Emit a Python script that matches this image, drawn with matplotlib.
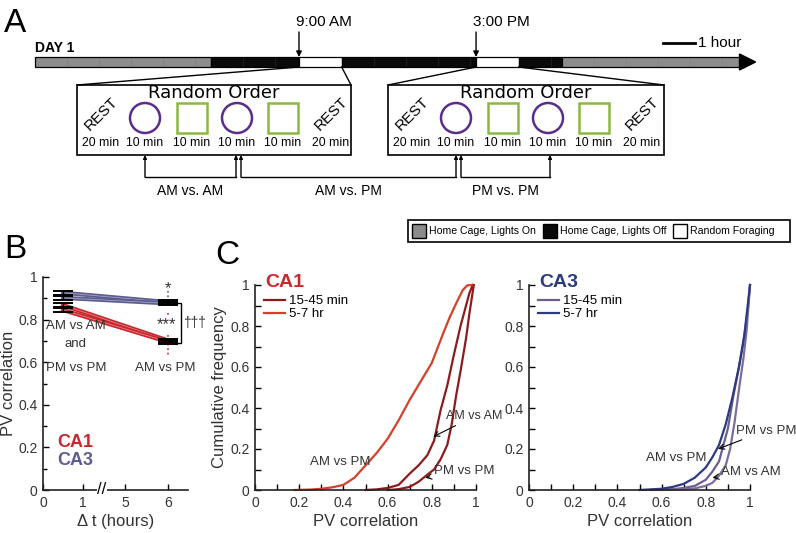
import numpy as np
import matplotlib.pyplot as plt
from matplotlib.patches import Rectangle, Circle, Polygon

plt.rcParams['font.family'] = ['Liberation Sans', 'DejaVu Sans']

# ---- panel A: day schedule (hours) ----
seg_kind = ['on', 'off', 'forage', 'off', 'forage', 'off', 'on']
seg_hours = [5.5, 2.75, 80 / 60, 4.2, 80 / 60, 1.35, 5.55]
seg_colors = {'on': '#8c8c8c', 'off': '#0a0a0a', 'forage': 'white'}
session_names = ['REST', 'circle', 'square', 'circle', 'square', 'REST']
session_minutes = [20, 10, 10, 10, 10, 20]
comparisons = ['AM vs. AM', 'AM vs. PM', 'PM vs. PM']
legend_labels = ['Home Cage, Lights On', 'Home Cage, Lights Off', 'Random Foraging']

# ---- panel B: mean PV correlation ----
delta_t = [0.5, 6]
ca1_a = [0.868, 0.702]
ca1_b = [0.845, 0.695]
ca3_a = [0.926, 0.882]
ca3_b = [0.902, 0.876]
sem_b = [0.01, 0.008]

# ---- panel C: cumulative distributions ----
ca1_ampm_x = [0.18, 0.25, 0.3, 0.35, 0.4, 0.45, 0.5, 0.55, 0.6, 0.65, 0.7, 0.75, 0.8, 0.85, 0.88, 0.91, 0.94, 0.96, 0.98]
ca1_ampm_y = [0, 0.002, 0.006, 0.013, 0.025, 0.06, 0.12, 0.18, 0.25, 0.34, 0.44, 0.53, 0.62, 0.76, 0.84, 0.91, 0.975, 0.998, 1.0]
ca1_amam_x = [0.5, 0.55, 0.6, 0.65, 0.7, 0.74, 0.78, 0.81, 0.84, 0.87, 0.9, 0.93, 0.95, 0.97, 0.985]
ca1_amam_y = [0, 0.003, 0.01, 0.025, 0.08, 0.12, 0.17, 0.24, 0.39, 0.51, 0.66, 0.80, 0.88, 0.96, 1.0]
ca1_pmpm_x = [0.6, 0.65, 0.7, 0.74, 0.78, 0.81, 0.84, 0.87, 0.89, 0.91, 0.93, 0.955, 0.97, 0.99]
ca1_pmpm_y = [0, 0.004, 0.015, 0.04, 0.075, 0.1, 0.15, 0.22, 0.32, 0.46, 0.58, 0.74, 0.86, 1.0]
ca3_ampm_x = [0.5, 0.55, 0.6, 0.65, 0.7, 0.75, 0.8, 0.83, 0.86, 0.89, 0.92, 0.95, 0.975, 1.0]
ca3_ampm_y = [0, 0.003, 0.006, 0.015, 0.03, 0.06, 0.11, 0.16, 0.22, 0.32, 0.45, 0.6, 0.76, 1.0]
ca3_pmpm_x = [0.55, 0.65, 0.7, 0.75, 0.8, 0.83, 0.86, 0.88, 0.9, 0.925, 0.95, 0.97, 0.99, 1.0]
ca3_pmpm_y = [0, 0.004, 0.01, 0.02, 0.05, 0.09, 0.14, 0.22, 0.3, 0.46, 0.6, 0.72, 0.88, 1.0]
ca3_amam_x = [0.6, 0.7, 0.75, 0.8, 0.83, 0.86, 0.89, 0.91, 0.93, 0.95, 0.97, 0.985, 1.0]
ca3_amam_y = [0, 0.004, 0.008, 0.02, 0.035, 0.07, 0.12, 0.2, 0.33, 0.49, 0.64, 0.78, 1.0]

red = '#c8282d'
dark_red = '#8c1c1c'
light_red = '#d4402a'
slate = '#5c5c90'
navy = '#2c3a82'
purple = '#6e5e90'
txt = '#333333'

W, H = 796, 533
fig = plt.figure(figsize=(W / 100, H / 100), dpi=100)
renderer = fig.canvas.get_renderer()

def frac(l, t, r, b):
    return [l / W, 1 - b / H, (r - l) / W, (b - t) / H]

ax0 = fig.add_axes([0, 0, 1, 1])
ax0.set_xlim(0, W)
ax0.set_ylim(H, 0)
ax0.axis('off')

# timeline
x0, px_h, top, bot = 35, 32, 57, 67
edges = [x0]
for k, h in zip(seg_kind, seg_hours):
    w = h * px_h
    ax0.add_patch(Rectangle((edges[-1], top), w, bot - top, fc=seg_colors[k], ec='k', lw=0.9))
    if k != 'forage':
        for xh in np.arange(edges[-1] + px_h, edges[-1] + w - 4, px_h):
            ax0.plot([xh, xh], [top + 1, bot - 1], color='#666666', lw=0.4, alpha=0.4)
    edges.append(edges[-1] + w)
ax0.add_patch(Polygon([(edges[-1], top - 3), (edges[-1] + 16, (top + bot) / 2), (edges[-1], bot + 3)], color='k'))
ax0.text(4, 23, 'A', fontsize=24, va='center', ha='left')
ax0.text(35, 48, 'DAY 1', fontsize=10, fontweight='bold', va='center')
ax0.plot([663, 695], [43, 43], color='k', lw=2)
ax0.text(698, 43, '1 hour', fontsize=11, va='center')

forage_idx = [i for i, k in enumerate(seg_kind) if k == 'forage']
times = ['9:00 AM', '3:00 PM']
boxes = [(77, 351), (388, 664)]
offsets = [24, 68, 115, 160, 206, 254]
box_top, box_bot = 85, 155
for n, i in enumerate(forage_idx):
    xa, xb = edges[i], edges[i + 1]
    ax0.annotate('', xy=(xa, top), xytext=(xa, 32),
                 arrowprops=dict(arrowstyle='-|>', color='k', lw=1, mutation_scale=8, shrinkA=0, shrinkB=0))
    ax0.text(xa - 3, 22, times[n], fontsize=11, ha='left', va='center')
    bl, br = boxes[n]
    ax0.plot([xa, bl], [bot, box_top], color='k', lw=1)
    ax0.plot([xb, br], [bot, box_top], color='k', lw=1)
    ax0.add_patch(Rectangle((bl, box_top), br - bl, box_bot - box_top, fill=False, ec='k', lw=1.2))
    ax0.text((bl + br) / 2, 93, 'Random Order', fontsize=13, ha='center', va='center',
             family='DejaVu Sans')
    for name, mins, off in zip(session_names, session_minutes, offsets):
        cx = bl + off
        if name == 'REST':
            ax0.text(cx, 114, 'REST', rotation=45, fontsize=11, ha='center', va='center')
        elif name == 'circle':
            ax0.add_patch(Circle((cx, 118), 15, fill=False, ec='#5a2d8a', lw=1.8))
        else:
            ax0.add_patch(Rectangle((cx - 15, 103), 30, 30, fill=False, ec='#8ab840', lw=1.8))
        ax0.text(cx, 143, f'{mins} min', fontsize=8.8, ha='center', va='center')

brackets = [(145, 236), (241, 456), (461, 550)]
for (xa, xb), lab in zip(brackets, comparisons):
    ax0.plot([xa, xb], [177, 177], color='k', lw=1)
    for xx in (xa, xb):
        ax0.annotate('', xy=(xx, box_bot), xytext=(xx, 177),
                     arrowprops=dict(arrowstyle='-|>', color='k', lw=1, mutation_scale=5, shrinkA=0, shrinkB=0))
    ax0.text((xa + xb) / 2, 191, lab, fontsize=10, ha='center', va='center')

# legend box for the schedule colours
ax0.add_patch(Rectangle((408, 220), 382, 22, fill=False, ec='k', lw=1.2))
xs = 412
for lab, c in zip(legend_labels, ['#8c8c8c', '#0a0a0a', 'white']):
    ax0.add_patch(Rectangle((xs, 224), 14, 14, fc=c, ec='k', lw=1))
    t = ax0.text(xs + 17, 231, lab, fontsize=7.6, va='center')
    bb = t.get_window_extent(renderer)
    xs = bb.x1 + 7

ax0.text(4, 250, 'B', fontsize=24, va='center', ha='left')
ax0.text(215, 256, 'C', fontsize=24, va='center', ha='left')

# ---- panel B ----
def brk(h):
    h = np.asarray(h, dtype=float)
    return np.where(h <= 1, h, 2.05 + (h - 5) * 1.075)

axB = fig.add_axes(frac(43, 277, 188, 490))
xb = brk(delta_t)
for vals, c in [(ca1_a, red), (ca1_b, red), (ca3_a, slate), (ca3_b, slate)]:
    axB.plot(xb, vals, color=c, lw=3, zorder=3)
    axB.plot(xb, vals, color='white', lw=0.5, alpha=0.5, zorder=3)
    axB.errorbar(xb, vals, yerr=sem_b, fmt='none', ecolor='k', capsize=7, capthick=1.4, elinewidth=1, zorder=4)
axB.set_xlim(0, 3.625)
axB.set_ylim(0, 1)
axB.set_xticks(brk([0, 1, 5, 6]))
axB.set_xticklabels(['0', '1', '5', '6'])
axB.set_yticks([0, 0.2, 0.4, 0.6, 0.8, 1])
axB.set_yticklabels(['0', '0.2', '0.4', '0.6', '0.8', '1'])
axB.set_yticks(np.arange(0, 1.01, 0.1), minor=True)
for s in ['top', 'right']:
    axB.spines[s].set_visible(False)
for s in ['left', 'bottom']:
    axB.spines[s].set_linewidth(1.2)
    axB.spines[s].set_color('#222222')
axB.tick_params(direction='in', length=4, width=1, labelsize=10, labelcolor=txt, pad=4)
axB.tick_params(which='minor', direction='in', length=3, width=1)
axB.text(1.47, 0, '//', fontsize=12, ha='center', va='center', clip_on=False,
         bbox=dict(fc='white', ec='none', pad=0.5))
axB.set_ylabel('PV correlation', fontsize=12, color=txt)
axB.yaxis.set_label_coords(-0.185, 0.5)
axB.set_xlabel('Δ t (hours)', fontsize=12, color=txt, labelpad=3)
axB.text(0.82, 0.77, 'AM vs AM', fontsize=9.5, ha='center', va='center', color=txt)
axB.text(0.82, 0.685, 'and', fontsize=9.5, ha='center', va='center', color=txt)
axB.text(0.82, 0.575, 'PM vs PM', fontsize=9.5, ha='center', va='center', color=txt)
axB.text(xb[1] - 0.07, 0.575, 'AM vs PM', fontsize=9.5, ha='center', va='center', color=txt)
axB.plot([xb[1], xb[1]], [0.935, 0.86], ls=':', color=slate, lw=1.2)
axB.plot([xb[1], xb[1]], [0.83, 0.63], ls=':', color=red, lw=1.2)
axB.text(xb[1], 0.945, '*', fontsize=12, ha='center', va='center', color=txt)
axB.text(xb[1] - 0.05, 0.775, '***', fontsize=12, ha='center', va='center', color=txt,
         bbox=dict(fc='white', ec='none', pad=0.2))
axB.plot([3.3, 3.45, 3.45, 3.3], [0.88, 0.88, 0.69, 0.69], color='k', lw=1, clip_on=False)
axB.text(3.5, 0.785, '†††', fontsize=10, ha='left', va='center', color=txt, clip_on=False)
axB.text(0.8, 0.225, 'CA1', fontsize=13, fontweight='bold', ha='center', va='center', color=red)
axB.text(0.8, 0.14, 'CA3', fontsize=13, fontweight='bold', ha='center', va='center', color=slate)

# ---- panel C ----
def style_c(ax):
    ax.set_xlim(0, 1)
    ax.set_ylim(0, 1)
    ax.set_xticks([0, 0.2, 0.4, 0.6, 0.8, 1])
    ax.set_xticklabels(['0', '0.2', '0.4', '0.6', '0.8', '1'])
    ax.set_yticks([0, 0.2, 0.4, 0.6, 0.8, 1])
    ax.set_yticklabels(['0', '0.2', '0.4', '0.6', '0.8', '1'])
    ax.set_xticks(np.arange(0, 1.01, 0.1), minor=True)
    ax.set_yticks(np.arange(0, 1.01, 0.1), minor=True)
    for s in ['top', 'right']:
        ax.spines[s].set_visible(False)
    for s in ['left', 'bottom']:
        ax.spines[s].set_linewidth(1.2)
        ax.spines[s].set_color('#222222')
    ax.tick_params(direction='in', length=4, width=1, labelsize=10, labelcolor=txt, pad=4)
    ax.tick_params(which='minor', direction='in', length=4, width=1)
    ax.set_xlabel('PV correlation', fontsize=12, color=txt, labelpad=3)

ap = dict(arrowstyle='->', color='k', lw=0.8, shrinkA=1, shrinkB=0)

axC1 = fig.add_axes(frac(255, 285, 476, 490))
l1, = axC1.plot(ca1_amam_x, ca1_amam_y, color=dark_red, lw=1.6, clip_on=False)
axC1.plot(ca1_pmpm_x, ca1_pmpm_y, color=dark_red, lw=1.6, clip_on=False)
l2, = axC1.plot(ca1_ampm_x, ca1_ampm_y, color=light_red, lw=1.6, clip_on=False)
style_c(axC1)
axC1.set_ylabel('Cumulative frequency', fontsize=12, color=txt, labelpad=2)
axC1.text(0.045, 1.01, 'CA1', fontsize=14, fontweight='bold', color=red, va='center', ha='left',
          transform=axC1.transAxes)
axC1.legend([l1, l2], ['15-45 min', '5-7 hr'], loc='upper left', bbox_to_anchor=(0.04, 0.95),
            frameon=False, handlelength=1.6, handletextpad=0.3, labelspacing=0.05, fontsize=9.5,
            borderaxespad=0, borderpad=0)
axC1.annotate('AM vs AM', xy=(0.807, 0.26), xytext=(0.865, 0.36), fontsize=9, color=txt,
              va='center', ha='left', arrowprops=ap, annotation_clip=False)
axC1.annotate('PM vs PM', xy=(0.77, 0.06), xytext=(0.81, 0.095), fontsize=9.5, color=txt,
              va='center', ha='left', arrowprops=ap, annotation_clip=False)
axC1.text(0.385, 0.135, 'AM vs PM', fontsize=9.5, color=txt, ha='center', va='center')

axC3 = fig.add_axes(frac(529, 285, 750, 490))
m1, = axC3.plot(ca3_pmpm_x, ca3_pmpm_y, color=purple, lw=1.6, clip_on=False)
axC3.plot(ca3_amam_x, ca3_amam_y, color='#7d6d9c', lw=1.6, clip_on=False)
m2, = axC3.plot(ca3_ampm_x, ca3_ampm_y, color=navy, lw=1.6, clip_on=False)
style_c(axC3)
axC3.text(0.045, 1.01, 'CA3', fontsize=14, fontweight='bold', color=navy, va='center', ha='left',
          transform=axC3.transAxes)
axC3.legend([m1, m2], ['15-45 min', '5-7 hr'], loc='upper left', bbox_to_anchor=(0.04, 0.95),
            frameon=False, handlelength=1.6, handletextpad=0.3, labelspacing=0.05, fontsize=9.5,
            borderaxespad=0, borderpad=0)
axC3.annotate('PM vs PM', xy=(0.855, 0.2), xytext=(0.935, 0.29), fontsize=9.5, color=txt,
              va='center', ha='left', arrowprops=ap, annotation_clip=False)
axC3.annotate('AM vs AM', xy=(0.83, 0.06), xytext=(0.87, 0.09), fontsize=9.5, color=txt,
              va='center', ha='left', arrowprops=ap, annotation_clip=False)
axC3.text(0.665, 0.155, 'AM vs PM', fontsize=9.5, color=txt, ha='center', va='center')

fig.savefig('out.png', dpi=100)
